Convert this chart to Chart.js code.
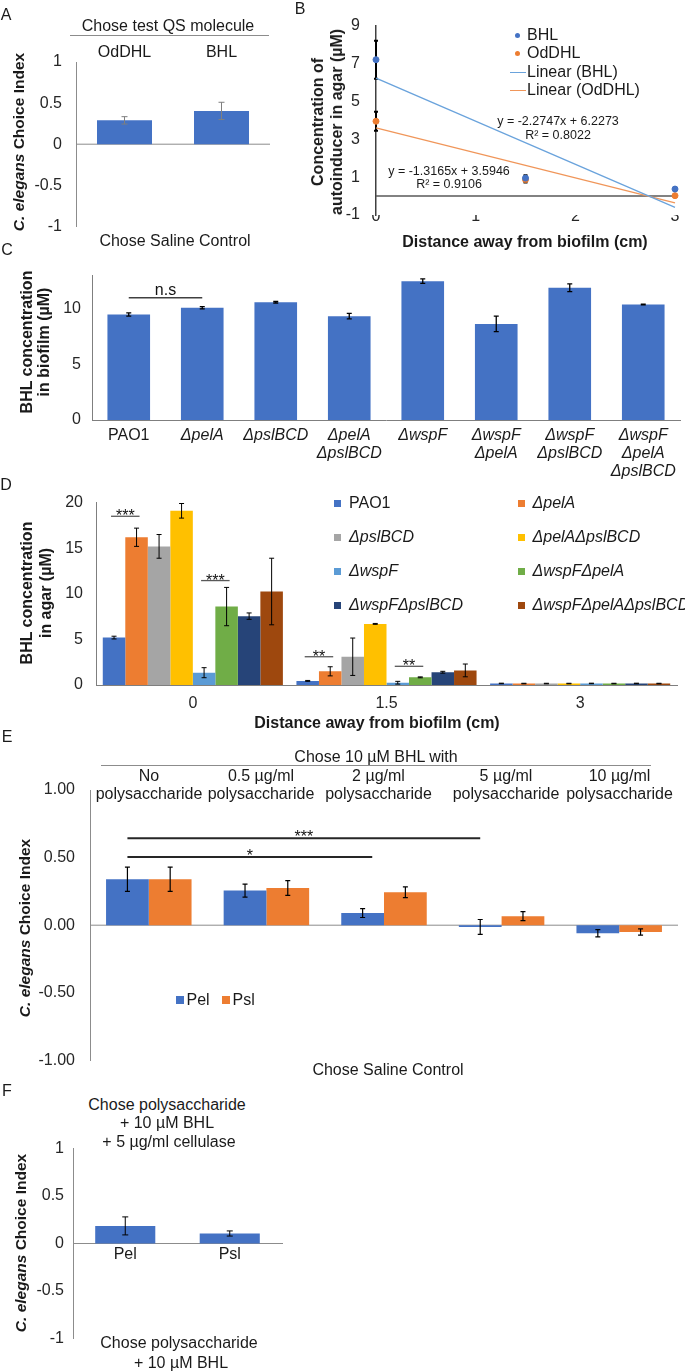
<!DOCTYPE html>
<html><head><meta charset="utf-8">
<script src="https://cdn.jsdelivr.net/npm/chart.js@4.4.0/dist/chart.umd.min.js"></script>
<style>
html,body{margin:0;padding:0;background:#fff;}
#page{position:relative;width:685px;height:1371px;overflow:hidden;font-family:'Liberation Sans',Arial,sans-serif;color:#1a1a1a;}
canvas{position:absolute;}
.t{position:absolute;transform:translate(-50%,-50%);white-space:nowrap;font-size:16px;line-height:18px;text-align:center;}
.l{position:absolute;white-space:nowrap;font-size:16px;line-height:18px;transform:translateY(-50%);}
.b{font-weight:bold;}
.r{position:absolute;transform:translate(-50%,-50%) rotate(-90deg);white-space:nowrap;font-weight:bold;text-align:center;}
.hl{position:absolute;height:1px;background:#8c8c8c;}
.leg{position:absolute;transform:translateY(-50%);display:flex;align-items:center;white-space:nowrap;font-size:16px;line-height:18px;}
.sw{display:inline-block;width:7px;height:7px;margin-right:8px;}
.eq{position:absolute;transform:translate(-50%,-50%);white-space:nowrap;font-size:12.5px;line-height:14px;}
</style></head>
<body>
<div id="page">
<canvas id="cA" width="280" height="250" style="left:0;top:0"></canvas>
<canvas id="cB" width="405" height="250" style="left:280px;top:0"></canvas>
<canvas id="cC" width="685" height="230" style="left:0;top:255px"></canvas>
<canvas id="cD" width="685" height="250" style="left:0;top:480px"></canvas>
<canvas id="cE" width="685" height="320" style="left:0;top:765px"></canvas>
<canvas id="cF" width="300" height="241" style="left:0;top:1130px"></canvas>

<div class="t" style="left:6px;top:15px">A</div>
<div class="t" style="left:300px;top:9px">B</div>
<div class="t" style="left:7px;top:250px">C</div>
<div class="t" style="left:6px;top:485px">D</div>
<div class="t" style="left:7px;top:737px">E</div>
<div class="t" style="left:7px;top:1091px">F</div>

<!-- Panel A text -->
<div class="t" style="left:168px;top:26px">Chose test QS molecule</div>
<div class="hl" style="left:70px;top:35px;width:199px"></div>
<div class="t" style="left:175px;top:241px">Chose Saline Control</div>
<div class="r" style="left:19px;top:142px;font-size:15.5px"><i>C. elegans</i> Choice Index</div>

<!-- Panel B text -->
<div class="r" style="left:327px;top:122px;font-size:16px;line-height:19px">Concentration of<br>autoinducer in agar (µM)</div>
<div style="position:absolute;left:514.5px;top:32.5px;width:5px;height:5px;border-radius:50%;background:#4472C4"></div>
<div class="l" style="left:527px;top:35px">BHL</div>
<div style="position:absolute;left:514.5px;top:50.5px;width:5px;height:5px;border-radius:50%;background:#ED7D31"></div>
<div class="l" style="left:527px;top:53px">OdDHL</div>
<div style="position:absolute;left:510px;top:71.5px;width:16px;height:1.5px;background:#6AA3DC"></div>
<div class="l" style="left:527px;top:72px">Linear (BHL)</div>
<div style="position:absolute;left:510px;top:89.5px;width:16px;height:1.5px;background:#F0965A"></div>
<div class="l" style="left:527px;top:90px">Linear (OdDHL)</div>
<div class="eq" style="left:558px;top:120.5px">y = -2.2747x + 6.2273</div>
<div class="eq" style="left:558px;top:135px">R² = 0.8022</div>
<div class="eq" style="left:449px;top:170.5px">y = -1.3165x + 3.5946</div>
<div class="eq" style="left:449px;top:184px">R² = 0.9106</div>
<div class="t b" style="left:525px;top:242px">Distance away from biofilm (cm)</div>

<!-- Panel C text -->
<div class="r" style="left:34.5px;top:342px;font-size:16px;line-height:17px">BHL concentration<br>in biofilm (µM)</div>

<!-- Panel D text -->
<div class="r" style="left:35.5px;top:593px;font-size:16px;line-height:19px">BHL concentration<br>in agar (µM)</div>
<div id="dLegend" style="position:absolute;left:334px;top:503px;width:350px;height:110px"></div>
<div class="t b" style="left:377px;top:723px">Distance away from biofilm (cm)</div>

<!-- Panel E text -->
<div class="t" style="left:376px;top:757px">Chose 10 µM BHL with</div>
<div class="hl" style="left:101px;top:765px;width:550px"></div>
<div class="t" style="left:149px;top:785px">No<br>polysaccharide</div>
<div class="t" style="left:261px;top:785px">0.5 µg/ml<br>polysaccharide</div>
<div class="t" style="left:378.5px;top:785px">2 µg/ml<br>polysaccharide</div>
<div class="t" style="left:506px;top:785px">5 µg/ml<br>polysaccharide</div>
<div class="t" style="left:619.5px;top:785px">10 µg/ml<br>polysaccharide</div>
<div class="r" style="left:25px;top:928px;font-size:15.5px"><i>C. elegans</i> Choice Index</div>
<div style="position:absolute;left:176px;top:996px;width:8px;height:8px;background:#4472C4"></div>
<div class="l" style="left:186.5px;top:1000px">Pel</div>
<div style="position:absolute;left:222px;top:996px;width:8px;height:8px;background:#ED7D31"></div>
<div class="l" style="left:232.5px;top:1000px">Psl</div>
<div class="t" style="left:388px;top:1070px">Chose Saline Control</div>

<!-- Panel F text -->
<div class="t" style="left:167px;top:1105px">Chose polysaccharide</div>
<div class="t" style="left:167px;top:1123px">+ 10 µM BHL</div>
<div class="t" style="left:169px;top:1142px">+ 5 µg/ml cellulase</div>
<div class="r" style="left:21px;top:1243px;font-size:15.5px"><i>C. elegans</i> Choice Index</div>
<div class="t" style="left:179px;top:1343px">Chose polysaccharide</div>
<div class="t" style="left:181px;top:1363px">+ 10 µM BHL</div>
</div>

<script>
// ---------------- DATA ----------------
// Panel A
const aCategories = ['OdDHL', 'BHL'];
const aValues = [0.29, 0.405];
const aErrors = [0.045, 0.105];
const aYTicks = [-1, -0.5, 0, 0.5, 1];

// Panel B
const bDistances = [0, 1.5, 3];
const bBHL = [7.2, 0.95, 0.37];
const bBHLErr = [1.0, 0.15, 0.1];
const bOdDHL = [3.95, 0.87, 0.02];
const bOdDHLErr = [0.5, 0.15, 0.05];
const bTrendX = [0, 3];
const bTrendBHL = [6.2273, -0.5968];
const bTrendOdDHL = [3.5946, -0.3549];
const bXTicks = [0, 1, 2, 3];
const bYTicks = [-1, 1, 3, 5, 7, 9];

// Panel C
const cStrains = [['PAO1'], ['ΔpelA'], ['ΔpslBCD'], ['ΔpelA', 'ΔpslBCD'], ['ΔwspF'], ['ΔwspF', 'ΔpelA'], ['ΔwspF', 'ΔpslBCD'], ['ΔwspF', 'ΔpelA', 'ΔpslBCD']];
const cValues = [9.5, 10.1, 10.6, 9.35, 12.5, 8.65, 11.9, 10.4];
const cErrors = [0.15, 0.1, 0.07, 0.25, 0.2, 0.7, 0.35, 0.04];
const cYTicks = [0, 5, 10];

// Panel D
const dDistances = ['0', '1.5', '3'];
const dStrains = ['PAO1', 'ΔpelA', 'ΔpslBCD', 'ΔpelAΔpslBCD', 'ΔwspF', 'ΔwspFΔpelA', 'ΔwspFΔpslBCD', 'ΔwspFΔpelAΔpslBCD'];
const dColors = ['#4472C4', '#ED7D31', '#A5A5A5', '#FFC000', '#5B9BD5', '#70AD47', '#264478', '#9E480E'];
const dPAO1 = [5.2, 0.45, 0.17];
const dPelA = [16.2, 1.5, 0.16];
const dPslBCD = [15.2, 3.1, 0.16];
const dPelAPslBCD = [19.1, 6.7, 0.16];
const dWspF = [1.35, 0.25, 0.17];
const dWspFPelA = [8.6, 0.84, 0.16];
const dWspFPslBCD = [7.55, 1.4, 0.17];
const dWspFPelAPslBCD = [10.25, 1.6, 0.16];
const dPAO1Err = [0.15, 0.05, 0.03];
const dPelAErr = [1.0, 0.5, 0.03];
const dPslBCDErr = [1.3, 2.05, 0.03];
const dPelAPslBCDErr = [0.8, 0.05, 0.03];
const dWspFErr = [0.55, 0.15, 0.03];
const dWspFPelAErr = [2.1, 0.05, 0.03];
const dWspFPslBCDErr = [0.35, 0.1, 0.03];
const dWspFPelAPslBCDErr = [3.65, 0.7, 0.03];
const dYTicks = [0, 5, 10, 15, 20];

// Panel E
const eConcentrations = ['No polysaccharide', '0.5 µg/ml polysaccharide', '2 µg/ml polysaccharide', '5 µg/ml polysaccharide', '10 µg/ml polysaccharide'];
const ePel = [0.34, 0.256, 0.09, -0.013, -0.06];
const ePelErr = [0.09, 0.048, 0.033, 0.055, 0.027];
const ePsl = [0.34, 0.275, 0.244, 0.067, -0.05];
const ePslErr = [0.09, 0.055, 0.04, 0.033, 0.023];
const eYTicks = [-1, -0.5, 0, 0.5, 1];

// Panel F
const fGroups = ['Pel', 'Psl'];
const fValues = [0.185, 0.105];
const fErrors = [0.095, 0.027];
const fYTicks = [-1, -0.5, 0, 0.5, 1];

// Significance annotations: endpoints as [dataset, index] or category value
const cSig = [{from: [0, 0], to: [0, 1], value: 11.0, text: 'n.s', dy: -3}];
const dSig = [
  {from: [0, 0], to: [1, 0], value: 18.5, text: '***', dy: 5},
  {from: [4, 0], to: [5, 0], value: 11.45, text: '***', dy: 5},
  {from: [0, 1], to: [1, 1], value: 3.1, text: '**', dy: 5},
  {from: [4, 1], to: [5, 1], value: 2.05, text: '**', dy: 5}
];
const eSig = [
  {from: [0, 0], to: [0, 3], value: 0.643, text: '***', dy: 4},
  {from: [0, 0], to: 1.9, value: 0.505, text: '*', dy: 4}
];

// ---------------- PLUGINS ----------------
const FONT = "'Liberation Sans', Arial, sans-serif";
Chart.defaults.font.family = FONT;
Chart.defaults.font.size = 16;
Chart.defaults.color = '#262626';

function drawErrors(chart, o) {
  const ctx = chart.ctx, ys = chart.scales.y;
  chart.data.datasets.forEach((ds, di) => {
    if (!ds.errors) return;
    const meta = chart.getDatasetMeta(di);
    meta.data.forEach((el, i) => {
      const raw = ds.data[i];
      const v = (typeof raw === 'object') ? raw.y : raw;
      const e = ds.errors[i];
      if (e == null) return;
      const x = el.x, y1 = ys.getPixelForValue(v + e), y2 = ys.getPixelForValue(v - e);
      const c = o.cap || 3;
      ctx.save();
      ctx.strokeStyle = o.color || '#000';
      ctx.lineWidth = o.width || 1;
      ctx.beginPath();
      ctx.moveTo(x, y1); ctx.lineTo(x, y2);
      ctx.moveTo(x - c, y1); ctx.lineTo(x + c, y1);
      ctx.moveTo(x - c, y2); ctx.lineTo(x + c, y2);
      ctx.stroke();
      ctx.restore();
    });
  });
}
const errorBars = {
  id: 'errorBars',
  beforeDatasetsDraw(chart, a, o) { if (o && o.before) drawErrors(chart, o); },
  afterDatasetsDraw(chart, a, o) { if (o && !o.before && o.color) drawErrors(chart, o); }
};
const zeroLine = {
  id: 'zeroLine',
  beforeDatasetsDraw(chart, a, o) {
    if (!o || !o.color) return;
    const ctx = chart.ctx, y = chart.scales.y.getPixelForValue(0);
    ctx.save(); ctx.strokeStyle = o.color; ctx.lineWidth = o.width || 1;
    ctx.beginPath(); ctx.moveTo(chart.chartArea.left, y); ctx.lineTo(chart.chartArea.right, y); ctx.stroke();
    ctx.restore();
  }
};
function refX(chart, r) {
  if (Array.isArray(r)) return chart.getDatasetMeta(r[0]).data[r[1]].x;
  return chart.scales.x.getPixelForValue(r);
}
const sig = {
  id: 'sig',
  afterDatasetsDraw(chart, a, o) {
    if (!o || !o.marks) return;
    const ctx = chart.ctx, ys = chart.scales.y;
    o.marks.forEach(m => {
      const x1 = refX(chart, m.from) - (o.pad || 0), x2 = refX(chart, m.to) + (o.pad || 0);
      const y = ys.getPixelForValue(m.value);
      ctx.save();
      ctx.strokeStyle = o.color || '#333'; ctx.lineWidth = o.width || 1.5;
      ctx.beginPath(); ctx.moveTo(x1, y); ctx.lineTo(x2, y); ctx.stroke();
      ctx.fillStyle = '#111'; ctx.font = '16px ' + FONT;
      ctx.textAlign = 'center'; ctx.textBaseline = 'alphabetic';
      ctx.fillText(m.text, (x1 + x2) / 2, y + m.dy);
      ctx.restore();
    });
  }
};
const PLUGS = [errorBars, zeroLine, sig];
const setTicks = arr => s => { s.ticks = arr.map(v => ({value: v})); };
function base(pad, plug) {
  return {
    responsive: false, animation: false, devicePixelRatio: 1,
    layout: {padding: pad},
    plugins: Object.assign({legend: {display: false}, tooltip: {enabled: false}}, plug)
  };
}
const BLUE = '#4472C4', ORANGE = '#ED7D31', AXIS = '#8c8c8c';

// ---------------- PANEL A ----------------
new Chart(document.getElementById('cA'), {
  type: 'bar',
  data: {labels: aCategories, datasets: [{data: aValues, errors: aErrors, backgroundColor: BLUE, barPercentage: 0.567, categoryPercentage: 1}]},
  options: Object.assign(base({left: 0, top: 42, right: 10, bottom: 18},
    {errorBars: {color: '#7f7f7f', width: 1, cap: 3}, zeroLine: {color: AXIS, width: 1}}), {
    scales: {
      x: {position: 'top', grid: {display: false, drawTicks: false}, border: {display: false},
          ticks: {padding: 0, color: '#1a1a1a'}, afterFit: s => { s.height = 20; }},
      y: {min: -1, max: 1, afterBuildTicks: setTicks(aYTicks), grid: {display: false, drawTicks: false},
          border: {display: true, color: AXIS},
          ticks: {padding: 14, callback: v => String(v)}, afterFit: s => { s.width = 76; }}
    }
  }),
  plugins: PLUGS
});

// ---------------- PANEL B ----------------
new Chart(document.getElementById('cB'), {
  type: 'scatter',
  data: {datasets: [
    {label: 'BHL', data: bDistances.map((x, i) => ({x: x, y: bBHL[i]})), errors: bBHLErr, backgroundColor: BLUE, borderColor: BLUE, pointRadius: 3, clip: false},
    {label: 'OdDHL', data: bDistances.map((x, i) => ({x: x, y: bOdDHL[i]})), errors: bOdDHLErr, backgroundColor: ORANGE, borderColor: ORANGE, pointRadius: 3, clip: false},
    {label: 'Linear (BHL)', type: 'line', showLine: true, data: bTrendX.map((x, i) => ({x: x, y: bTrendBHL[i]})), borderColor: '#6AA3DC', borderWidth: 1.3, pointRadius: 0, fill: false, clip: false},
    {label: 'Linear (OdDHL)', type: 'line', showLine: true, data: bTrendX.map((x, i) => ({x: x, y: bTrendOdDHL[i]})), borderColor: '#F0965A', borderWidth: 1.3, pointRadius: 0, fill: false, clip: false}
  ]},
  options: Object.assign(base({left: 0, top: 25, right: 10, bottom: 15},
    {errorBars: {before: true, color: '#000', width: 2, cap: 2}, zeroLine: {color: '#595959', width: 1.5}}), {
    scales: {
      x: {type: 'linear', min: 0, max: 3, afterBuildTicks: setTicks(bXTicks), grid: {display: false, drawTicks: false},
          border: {display: false}, ticks: {padding: -8, callback: v => String(v)}, afterFit: s => { s.height = 20; }},
      y: {min: -1, max: 9, afterBuildTicks: setTicks(bYTicks), grid: {display: false, drawTicks: false},
          border: {display: true, color: '#404040', width: 1.5},
          ticks: {padding: 16, callback: v => String(v)}, afterFit: s => { s.width = 96; }}
    }
  }),
  plugins: PLUGS
});

// ---------------- PANEL C ----------------
new Chart(document.getElementById('cC'), {
  type: 'bar',
  data: {labels: cStrains, datasets: [{data: cValues, errors: cErrors, backgroundColor: BLUE, barPercentage: 0.58, categoryPercentage: 1}]},
  options: Object.assign(base({left: 0, top: 9, right: 5, bottom: 0},
    {errorBars: {color: '#000', width: 1.3, cap: 2.5}, sig: {marks: cSig, color: '#404040', width: 1.5}}), {
    scales: {
      x: {grid: {display: false, drawTicks: false}, border: {display: true, color: '#7f7f7f'},
          ticks: {padding: 6, autoSkip: false, maxRotation: 0, color: '#1a1a1a',
                  font: c => ({size: 16, lineHeight: 1.15, style: (c.tick && String(c.tick.label).indexOf('Δ') >= 0) ? 'italic' : 'normal'})},
          afterFit: s => { s.height = 65; }},
      y: {min: 0, max: 13, afterBuildTicks: setTicks(cYTicks), grid: {display: false, drawTicks: false},
          border: {display: true, color: '#7f7f7f'}, ticks: {padding: 11}, afterFit: s => { s.width = 92; }}
    }
  }),
  plugins: PLUGS
});

// ---------------- PANEL D ----------------
const dSeries = [dPAO1, dPelA, dPslBCD, dPelAPslBCD, dWspF, dWspFPelA, dWspFPslBCD, dWspFPelAPslBCD];
const dSeriesErr = [dPAO1Err, dPelAErr, dPslBCDErr, dPelAPslBCDErr, dWspFErr, dWspFPelAErr, dWspFPslBCDErr, dWspFPelAPslBCDErr];
new Chart(document.getElementById('cD'), {
  type: 'bar',
  data: {labels: dDistances, datasets: dStrains.map((name, i) => ({
    label: name, data: dSeries[i], errors: dSeriesErr[i], backgroundColor: dColors[i], categoryPercentage: 0.93, barPercentage: 1
  }))},
  options: Object.assign(base({left: 0, top: 21.7, right: 8, bottom: 15},
    {errorBars: {color: '#000', width: 1, cap: 2.5}, sig: {marks: dSig, color: '#595959', width: 1.3, pad: 3}}), {
    scales: {
      x: {grid: {display: false, drawTicks: false}, border: {display: true, color: '#7f7f7f'},
          ticks: {padding: 9, font: {size: 16, lineHeight: 1.15}}, afterFit: s => { s.height = 30; }},
      y: {min: 0, max: 20, afterBuildTicks: setTicks(dYTicks), grid: {display: false, drawTicks: false},
          border: {display: true, color: '#7f7f7f'}, ticks: {padding: 13}, afterFit: s => { s.width = 96; }}
    }
  }),
  plugins: PLUGS
});
const dLeg = document.getElementById('dLegend');
dStrains.forEach((name, i) => {
  const it = document.createElement('div');
  it.className = 'leg';
  it.style.left = ((i % 2) * 183.5) + 'px';
  it.style.top = (Math.floor(i / 2) * 34.1) + 'px';
  const sw = document.createElement('span');
  sw.className = 'sw'; sw.style.background = dColors[i];
  const tx = document.createElement('span');
  tx.textContent = name; tx.style.fontStyle = name.indexOf('Δ') >= 0 ? 'italic' : 'normal';
  it.appendChild(sw); it.appendChild(tx);
  dLeg.appendChild(it);
});

// ---------------- PANEL E ----------------
new Chart(document.getElementById('cE'), {
  type: 'bar',
  data: {labels: eConcentrations, datasets: [
    {label: 'Pel', data: ePel, errors: ePelErr, backgroundColor: BLUE, categoryPercentage: 0.727, barPercentage: 1},
    {label: 'Psl', data: ePsl, errors: ePslErr, backgroundColor: ORANGE, categoryPercentage: 0.727, barPercentage: 1}
  ]},
  options: Object.assign(base({left: 0, top: 25, right: 7, bottom: 19},
    {errorBars: {color: '#000', width: 1.2, cap: 2.5}, zeroLine: {color: AXIS, width: 1}, sig: {marks: eSig, color: '#262626', width: 2}}), {
    scales: {
      x: {display: false},
      y: {min: -1, max: 1, afterBuildTicks: setTicks(eYTicks), grid: {display: false, drawTicks: false},
          border: {display: true, color: AXIS}, ticks: {padding: 15, callback: v => v.toFixed(2)},
          afterFit: s => { s.width = 90; }}
    }
  }),
  plugins: PLUGS
});

// ---------------- PANEL F ----------------
new Chart(document.getElementById('cF'), {
  type: 'bar',
  data: {labels: fGroups, datasets: [{data: fValues, errors: fErrors, backgroundColor: BLUE, barPercentage: 0.575, categoryPercentage: 1}]},
  options: Object.assign(base({left: 0, top: 17.7, right: 18, bottom: 32.7},
    {errorBars: {color: '#000', width: 1, cap: 3}}), {
    scales: {
      x: {position: {y: 0}, grid: {display: false, drawTicks: false}, border: {display: true, color: AXIS},
          ticks: {padding: 1.5, color: '#1a1a1a'}, afterFit: s => { s.height = 0; }},
      y: {min: -1, max: 1, afterBuildTicks: setTicks(fYTicks), grid: {display: false, drawTicks: false},
          border: {display: true, color: AXIS}, ticks: {padding: 9, callback: v => String(v)},
          afterFit: s => { s.width = 73; }}
    }
  }),
  plugins: PLUGS
});
</script>
</body></html>
